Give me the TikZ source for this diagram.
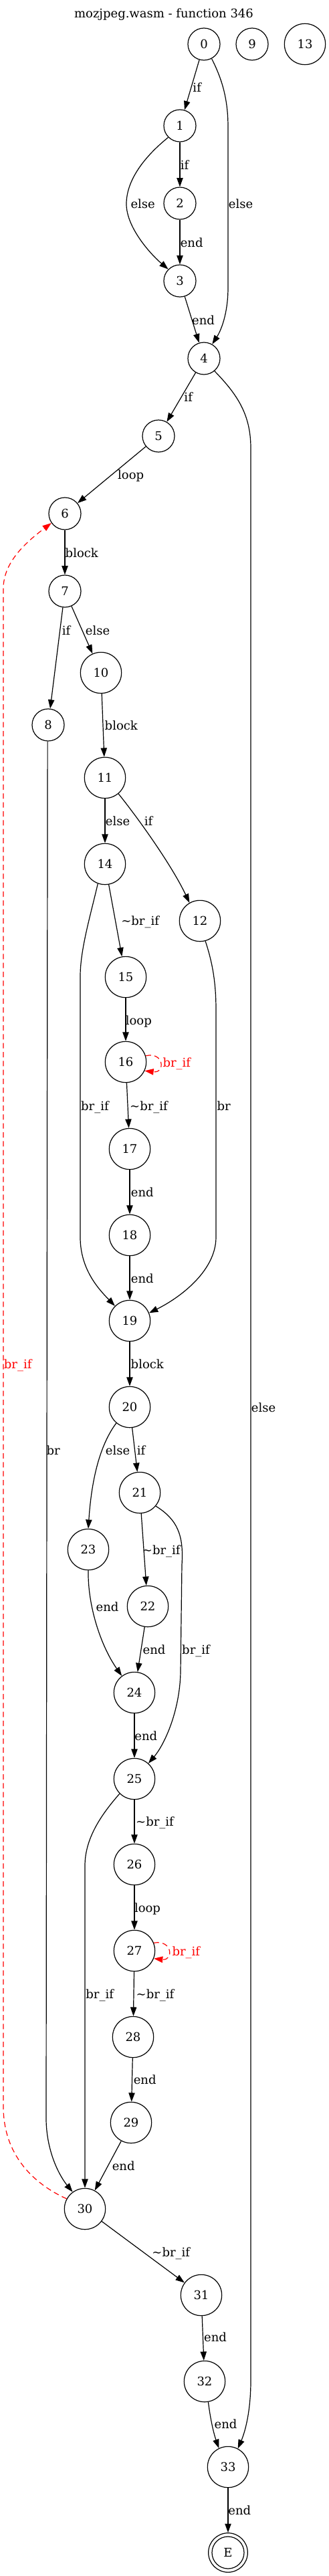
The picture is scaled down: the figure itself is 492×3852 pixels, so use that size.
\documentclass[tikz,border=0pt]{standalone}
\usepackage{fontspec}
\setmainfont{DejaVu Serif}
\usetikzlibrary{arrows.meta}
\begin{document}
\begin{tikzpicture}[x=0.75pt,y=-0.75pt,
  every node/.style={font=\fontsize{13.5}{16}\selectfont},
  st/.style={circle,draw,line width=0.9pt,minimum size=36pt,inner sep=0pt},
  stw/.style={st,minimum size=46pt},
  arr/.style={draw,line width=0.9pt,-{Triangle[length=10pt,width=7pt]}},
  back/.style={arr,red,dash pattern=on 6pt off 4pt},
  lab/.style={anchor=base,inner sep=0pt},
  rlab/.style={lab,text=red}]
\useasboundingbox (0,0) rectangle (492,3852);
\node[lab] (title) at (245,26) {mozjpeg.wasm - function 346};
% nodes
\node[st]  (n0)  at (305,66)   {0};
\node[st]  (n9)  at (377,66)   {9};
\node[stw] (n13) at (456,66)   {13};
\node[st]  (n1)  at (269,188)  {1};
\node[st]  (n2)  at (269,304)  {2};
\node[st]  (n3)  at (269,420)  {3};
\node[st]  (n4)  at (305,536)  {4};
\node[st]  (n5)  at (237,652)  {5};
\node[st]  (n6)  at (97,768)   {6};
\node[st]  (n7)  at (97,884)   {7};
\node[stw] (n10) at (151,1006) {10};
\node[st]  (n8)  at (72,1084)  {8};
\node[stw] (n11) at (157,1163) {11};
\node[stw] (n14) at (157,1292) {14};
\node[stw] (n12) at (299,1377) {12};
\node[stw] (n15) at (188,1461) {15};
\node[stw] (n16) at (188,1588) {16};
\node[stw] (n17) at (194,1718) {17};
\node[stw] (n18) at (194,1847) {18};
\node[stw] (n19) at (194,1975) {19};
\node[stw] (n20) at (194,2104) {20};
\node[stw] (n21) at (209,2232) {21};
\node[stw] (n23) at (132,2317) {23};
\node[stw] (n22) at (221,2402) {22};
\node[stw] (n24) at (201,2531) {24};
\node[stw] (n25) at (201,2660) {25};
\node[stw] (n26) at (201,2788) {26};
\node[stw] (n27) at (201,2917) {27};
\node[stw] (n28) at (199,3046) {28};
\node[stw] (n29) at (196,3174) {29};
\node[stw] (n30) at (127,3303) {30};
\node[stw] (n31) at (301,3432) {31};
\node[stw] (n32) at (306,3561) {32};
\node[stw] (n33) at (341,3689) {33};
\node[st]  (E)   at (341,3817) {E};
\node[circle,draw,line width=0.9pt,minimum size=44pt,inner sep=0pt] (Eo) at (E) {};
% edges
\draw[arr] (n0) -- (n1);
\draw[arr] (n0.-62) .. controls (333,120) and (341,150) .. (341,190) -- (341,430) .. controls (341,470) and (330,495) .. (n4.60);
\draw[arr] (n1) -- (n2);
\draw[arr] (n1.-135) .. controls (215,235) and (189,270) .. (189,305) .. controls (189,340) and (225,380) .. (n3.135);
\draw[arr] (n2) -- (n3);
\draw[arr] (n3) -- (n4);
\draw[arr] (n4) -- (n5);
\draw[arr] (n4.-50) .. controls (355,590) and (375,620) .. (375,670) -- (375,3560) .. controls (375,3610) and (365,3640) .. (n33.62);
\draw[arr] (n5) -- (n6);
\draw[arr] (n6) -- (n7);
\draw[arr] (n7) -- (n8);
\draw[arr] (n7) -- (n10);
\draw[arr] (n10) -- (n11);
\draw[arr] (n11) -- (n14);
\draw[arr] (n11.-50) .. controls (200,1215) and (255,1290) .. (n12.120);
\draw[arr] (n14) -- (n15);
\draw[arr] (n14.-110) .. controls (135,1370) and (120,1420) .. (120,1460) -- (120,1850) .. controls (120,1900) and (150,1930) .. (n19.135);
\draw[arr] (n15) -- (n16);
\draw[back] (n16.17) .. controls (245,1572) and (248,1605) .. (n16.-25);
\draw[arr] (n16) -- (n17);
\draw[arr] (n12.-75) .. controls (318,1440) and (323,1470) .. (323,1510) -- (323,1850) .. controls (323,1900) and (270,1940) .. (n19.22);
\draw[arr] (n17) -- (n18);
\draw[arr] (n18) -- (n19);
\draw[arr] (n19) -- (n20);
\draw[arr] (n20) -- (n21);
\draw[arr] (n20.-130) .. controls (150,2160) and (137,2210) .. (n23.90);
\draw[arr] (n21) -- (n22);
\draw[arr] (n21.-40) .. controls (265,2272) and (275,2295) .. (272,2340) -- (270,2500) .. controls (269,2560) and (245,2610) .. (n25.48);
\draw[arr] (n22) -- (n24);
\draw[arr] (n23.-90) .. controls (131,2400) and (150,2460) .. (n24.127);
\draw[arr] (n24) -- (n25);
\draw[arr] (n25) -- (n26);
\draw[arr] (n25.-135) .. controls (150,2715) and (127,2750) .. (127,2790) -- (n30.north);
\draw[arr] (n26) -- (n27);
\draw[back] (n27.22) .. controls (258,2900) and (260,2932) .. (n27.-22);
\draw[arr] (n27) -- (n28);
\draw[arr] (n28) -- (n29);
\draw[arr] (n29) -- (n30);
\draw[arr] (n8.-92) -- (69,3170) .. controls (70,3220) and (90,3255) .. (n30.126);
\draw[back] (n30.151) .. controls (60,3270) and (5,3230) .. (5,3150) -- (5,880) .. controls (5,840) and (40,810) .. (n6.-145);
\draw[arr] (n30) -- (n31);
\draw[arr] (n31) -- (n32);
\draw[arr] (n32.-80) .. controls (315,3620) and (320,3640) .. (n33.116);
\draw[arr] (n33) -- (Eo);
% labels
\node[lab] (l1)  at (294.7,137) {if};
\node[lab] (l2)  at (276,253) {if};
\node[lab] (l3)  at (213.7,311) {else};
\node[lab] (l4)  at (360,311) {else};
\node[lab] (l5)  at (286.7,369) {end};
\node[lab] (l6)  at (304,485) {end};
\node[lab] (l7)  at (281.7,600) {if};
\node[lab] (l8)  at (195.7,716) {loop};
\node[lab] (l9)  at (122.3,833) {block};
\node[lab] (l10) at (99,949) {if};
\node[lab] (l11) at (146,949) {else};
\node[lab] (l12) at (181.3,1091) {block};
\node[lab] (l13) at (176,1234) {else};
\node[lab] (l14) at (222,1234) {if};
\node[lab] (l15) at (209.7,1383) {\textasciitilde br\_if};
\node[lab] (l16) at (207.3,1532) {loop};
\node[rlab] (l17) at (264.3,1595) {br\_if};
\node[lab] (l18) at (142,1660) {br\_if};
\node[lab] (l19) at (222.5,1660) {\textasciitilde br\_if};
\node[lab] (l20) at (334.7,1660) {br};
\node[lab] (l21) at (212.8,1789) {end};
\node[lab] (l22) at (212.8,1918) {end};
\node[rlab] (l23) at (26.7,2046) {br\_if};
\node[lab] (l24) at (220.3,2046) {block};
\node[lab] (l25) at (394,2111) {else};
\node[lab] (l26) at (79.7,2175) {br};
\node[lab] (l27) at (176,2175) {else};
\node[lab] (l28) at (211,2175) {if};
\node[lab] (l29) at (241.3,2324) {\textasciitilde br\_if};
\node[lab] (l30) at (160.5,2409) {end};
\node[lab] (l31) at (230.5,2473) {end};
\node[lab] (l32) at (293,2473) {br\_if};
\node[lab] (l33) at (218.3,2602) {end};
\node[lab] (l34) at (231.5,2730) {\textasciitilde br\_if};
\node[lab] (l35) at (220.5,2859) {loop};
\node[rlab] (l36) at (278.3,2924) {br\_if};
\node[lab] (l37) at (149.2,2988) {br\_if};
\node[lab] (l38) at (232,2988) {\textasciitilde br\_if};
\node[lab] (l39) at (216.7,3116) {end};
\node[lab] (l40) at (184.7,3245) {end};
\node[lab] (l41) at (255.8,3374) {\textasciitilde br\_if};
\node[lab] (l42) at (322,3501) {end};
\node[lab] (l43) at (337.5,3631) {end};
\node[lab] (l44) at (358.3,3760) {end};
\end{tikzpicture}
\end{document}
